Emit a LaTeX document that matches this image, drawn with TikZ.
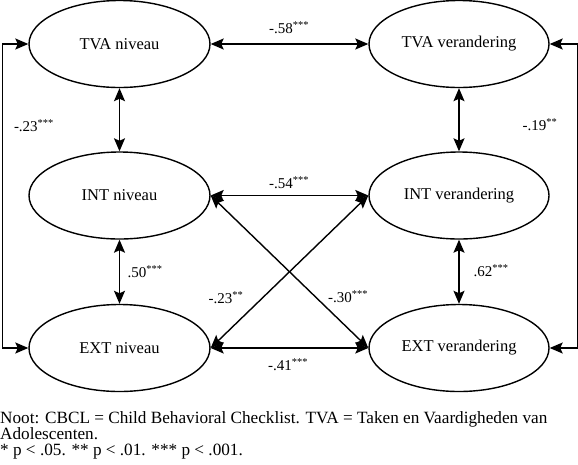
\documentclass[tikz,border=0pt]{standalone}
\usepackage{fontspec}
\setmainfont{Liberation Serif}
\usetikzlibrary{shapes.geometric,arrows.meta}
\tikzset{
  lv/.style={ellipse,draw,line width=1.4pt,minimum width=181pt,minimum height=87pt,font=\fontsize{16.5}{18}\selectfont,inner sep=0pt},
  tip/.tip={Stealth[length=13pt,width=11pt,inset=2.5pt]},
  conn/.style={line width=1.4pt,tip-tip},
  lab/.style={font=\fontsize{15}{17}\selectfont,inner sep=0pt},
  note/.style={font=\fontsize{17.2}{16.3}\selectfont,inner sep=0pt,anchor=north west,align=left}
}
\newcommand{\sig}[2]{#1\textsuperscript{#2}}
\begin{document}
\begin{tikzpicture}[x=1pt,y=-1pt]
\useasboundingbox (0,0) rectangle (578,464);
\node[lv] (tvan) at (119.5,44) {TVA niveau};
\node[lv] (intn) at (119.5,195.5) {INT niveau};
\node[lv] (extn) at (119.5,348) {EXT niveau};
\node[lv,minimum width=180pt] (tvav) at (459,44) {TVA verandering};
\node[lv,minimum width=180pt] (intv) at (459,195.5) {INT verandering};
\node[lv,minimum width=180pt] (extv) at (459,348) {EXT verandering};
\draw[conn] (tvan.east) -- (tvav.west);
\draw[conn] (intn.east) -- (intv.west);
\draw[conn] (extn.east) -- (extv.west);
\draw[conn] (tvan.south) -- (intn.north);
\draw[conn] (intn.south) -- (extn.north);
\draw[conn] (tvav.south) -- (intv.north);
\draw[conn] (intv.south) -- (extv.north);
\draw[conn] (intn.east) -- (extv.west);
\draw[conn] (intv.west) -- (extn.east);
\draw[conn] (tvan.west) -- ++(-26,0) |- (extn.west);
\draw[conn] (tvav.east) -- ++(27.5,0) |- (extv.east);
\node[lab] (l1) at (289,28) {\sig{-.58}{***}};
\node[lab] (l2) at (289,183) {\sig{-.54}{***}};
\node[lab] (l3) at (288,365) {\sig{-.41}{***}};
\node[lab] (l4) at (34,126) {\sig{-.23}{***}};
\node[lab] (l5) at (145,272) {\sig{.50}{***}};
\node[lab] (l6) at (226,298) {\sig{-.23}{**}};
\node[lab] (l7) at (348,297) {\sig{-.30}{***}};
\node[lab] (l8) at (491,271) {\sig{.62}{***}};
\node[lab] (l9) at (540,125) {\sig{-.19}{**}};
\node[note] (n1) at (0,411) {Noot: CBCL = Child Behavioral Checklist. TVA = Taken en Vaardigheden van\\Adolescenten.\\* p < .05. ** p < .01. *** p < .001.};
\end{tikzpicture}
\end{document}
